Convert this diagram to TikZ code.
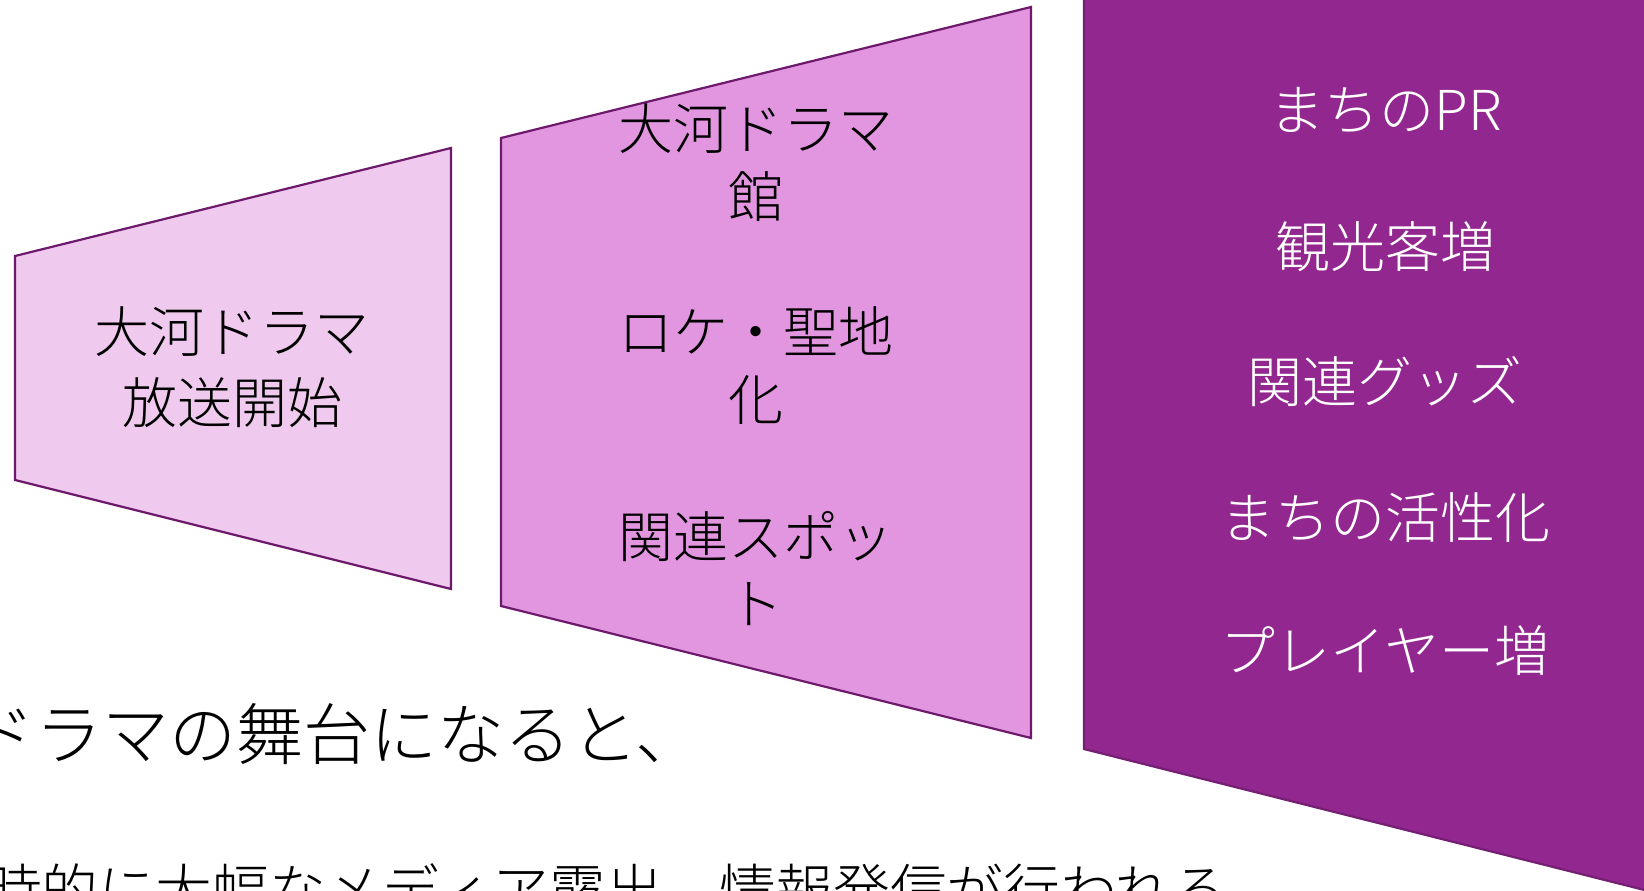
\documentclass[tikz,border=0pt]{standalone}
\usepackage{fontspec}
\newfontfamily\jp{Noto Sans CJK JP Light}
\definecolor{pone}{HTML}{F0CAEE}
\definecolor{ptwo}{HTML}{E296E0}
\definecolor{pthree}{HTML}{92278F}
\definecolor{pborder}{HTML}{6E1A6C}
\begin{document}
\begin{tikzpicture}[x=1pt,y=-1pt,
  panel/.style={draw=pborder, line width=2.2pt, line join=miter},
  txt/.style={anchor=base, inner sep=0pt, font=\jp\fontsize{55}{55}\selectfont},
  wtxt/.style={txt, text=white},
  big/.style={anchor=base west, inner sep=0pt, font=\jp\fontsize{67}{67}\selectfont},
  mid/.style={anchor=base west, inner sep=0pt, font=\jp\fontsize{56.8}{56.8}\selectfont}]
\useasboundingbox (0,0) rectangle (1644,891);
\begin{scope}
\clip (0,0) rectangle (1644,891);
\fill[white] (0,0) rectangle (1644,891);
\draw[panel, fill=pone] (15,256) -- (451,148) -- (451,589) -- (15,480) -- cycle;
\draw[panel, fill=ptwo] (501,138) -- (1031,7) -- (1031,738) -- (501,606) -- cycle;
\draw[panel, draw=pthree!80!black, fill=pthree] (1084,-5) -- (1720,-165) -- (1720,909) -- (1084,749) -- cycle;
% panel 1
\node[txt] (a1) at (232,352) {大河ドラマ};
\node[txt] (a2) at (232,423) {放送開始};
% panel 2
\node[txt] (b1) at (756,149) {大河ドラマ};
\node[txt] (b2) at (756,217) {館};
\node[txt] (b3) at (756,352) {ロケ・聖地};
\node[txt] (b4) at (756,420) {化};
\node[txt] (b5) at (756,557) {関連スポッ};
\node[txt] (b6) at (756,624) {ト};
% panel 3
\node[wtxt] (c1) at (1386,130) {まちのPR};
\node[wtxt] (c2) at (1385,267) {観光客増};
\node[wtxt] (c3) at (1385,402) {関連グッズ};
\node[wtxt] (c4) at (1385,538) {まちの活性化};
\node[wtxt] (c5) at (1385,671) {プレイヤー増};
% bottom text
\node[big] (d1) at (-32,759) {ドラマの舞台になると、};
\node[mid] (d2) at (-15,911) {時的に大幅なメディア露出、情報発信が行われる};
\end{scope}
\end{tikzpicture}
\end{document}
